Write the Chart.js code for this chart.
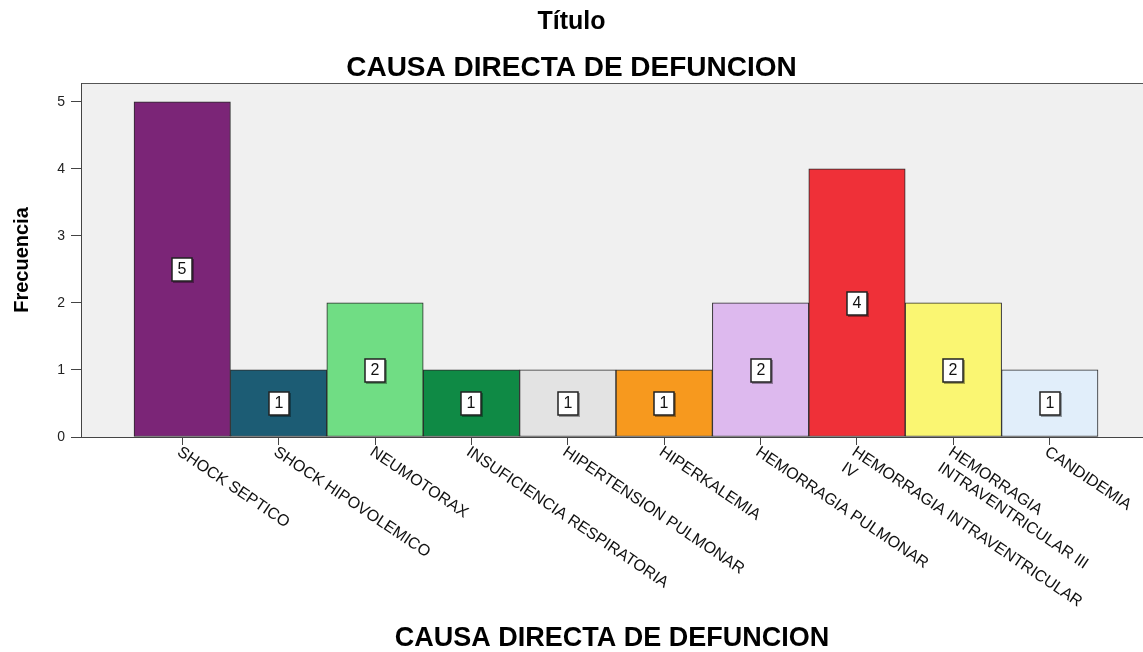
<!DOCTYPE html>
<html lang="es">
<head>
  <meta charset="UTF-8" />
  <title>Causa directa de defunción</title>
  <script src="https://cdn.jsdelivr.net/npm/chart.js"></script>
  <style>
    body { margin: 0; background: #fff; }
    canvas { display: block; }
  </style>
</head>
<body>
  <canvas id="grafico" width="1143" height="652"></canvas>

  <script>
    // Datos
    const categorias = [
      'SHOCK SEPTICO',
      'SHOCK HIPOVOLEMICO',
      'NEUMOTORAX',
      'INSUFICIENCIA RESPIRATORIA',
      'HIPERTENSION PULMONAR',
      'HIPERKALEMIA',
      'HEMORRAGIA PULMONAR',
      ['HEMORRAGIA INTRAVENTRICULAR', 'IV'],
      ['HEMORRAGIA', 'INTRAVENTRICULAR III'],
      'CANDIDEMIA'
    ];
    const frecuencia = [5, 1, 2, 1, 1, 1, 2, 4, 2, 1];
    const colores = [
      '#7b2577', '#1c5c74', '#70dd84', '#0f8a45', '#e3e3e3',
      '#f7991e', '#ddb9ee', '#ef3038', '#faf672', '#e1eefa'
    ];
    const ticksY = [0, 1, 2, 3, 4, 5];

    const fuente = '"Liberation Sans", Arial, sans-serif';

    // Fondo gris y marco del área de trazado
    const fondo = {
      id: 'fondo',
      beforeDraw(chart) {
        const { ctx, chartArea: a } = chart;
        ctx.save();
        ctx.fillStyle = '#f0f0f0';
        ctx.fillRect(a.left, a.top, a.width, a.height);
        ctx.strokeStyle = '#555';
        ctx.lineWidth = 1;
        ctx.strokeRect(a.left + 0.5, a.top + 0.5, a.width, a.height);
        ctx.restore();
      }
    };

    // Etiquetas con el valor en el centro de cada barra
    const etiquetas = {
      id: 'etiquetas',
      afterDatasetsDraw(chart) {
        const { ctx } = chart;
        const meta = chart.getDatasetMeta(0);
        ctx.save();
        ctx.font = '16px ' + fuente;
        ctx.textAlign = 'center';
        ctx.textBaseline = 'middle';
        meta.data.forEach((bar, i) => {
          const cx = Math.round(bar.x);
          const cy = Math.round((bar.y + bar.base) / 2);
          ctx.fillStyle = 'rgba(0,0,0,0.35)';
          ctx.fillRect(cx - 9, cy - 10, 21, 24);
          ctx.fillStyle = '#fff';
          ctx.fillRect(cx - 10, cy - 11, 20, 23);
          ctx.strokeStyle = '#222';
          ctx.lineWidth = 1.5;
          ctx.strokeRect(cx - 10, cy - 11, 20, 23);
          ctx.fillStyle = '#111';
          ctx.fillText(String(frecuencia[i]), cx, cy + 1);
        });
        ctx.restore();
      }
    };

    // Etiquetas del eje X giradas hacia abajo a la derecha
    const etiquetasX = {
      id: 'etiquetasX',
      afterDraw(chart) {
        const { ctx } = chart;
        const xs = chart.scales.x;
        ctx.save();
        ctx.font = '16px ' + fuente;
        ctx.fillStyle = '#111';
        ctx.textAlign = 'left';
        ctx.textBaseline = 'top';
        categorias.forEach((lab, i) => {
          const px = xs.getPixelForValue(i);
          ctx.save();
          ctx.translate(px + 1, xs.top + 7);
          ctx.rotate(34 * Math.PI / 180);
          [].concat(lab).forEach((t, j) => ctx.fillText(t, 0, j * 19));
          ctx.restore();
        });
        ctx.restore();
      }
    };

    const ctx = document.getElementById('grafico').getContext('2d');
    const grafico = new Chart(ctx, {
      type: 'bar',
      data: {
        datasets: [{
          label: 'Frecuencia',
          data: frecuencia.map((v, i) => ({ x: i, y: v })),
          backgroundColor: colores,
          borderColor: '#2a2a2a',
          borderWidth: 1,
          borderSkipped: false,
          barPercentage: 1,
          categoryPercentage: 1
        }]
      },
      options: {
        responsive: false,
        animation: false,
        layout: { padding: 0 },
        plugins: {
          legend: { display: false },
          tooltip: { enabled: false },
          title: {
            display: true,
            text: 'Título',
            color: '#000',
            font: { family: fuente, size: 25, weight: 'bold', lineHeight: 1 },
            padding: { top: 10, bottom: 5 }
          },
          subtitle: {
            display: true,
            text: 'CAUSA DIRECTA DE DEFUNCION',
            color: '#000',
            font: { family: fuente, size: 28, weight: 'bold', lineHeight: 1 },
            padding: { top: 14, bottom: 1 }
          }
        },
        scales: {
          x: {
            type: 'linear',
            offset: false,
            min: -1.05,
            max: 9.967,
            afterBuildTicks(s) { s.ticks = categorias.map((c, i) => ({ value: i })); },
            afterFit(s) { s.height = 215; },
            ticks: { display: false },
            grid: { offset: false, drawOnChartArea: false, tickLength: 8, tickColor: '#444' },
            border: { color: '#444', width: 1 },
            title: {
              display: true,
              text: 'CAUSA DIRECTA DE DEFUNCION',
              color: '#000',
              font: { family: fuente, size: 27, weight: 'bold', lineHeight: 1 },
              padding: { top: 0, bottom: 0 }
            }
          },
          y: {
            min: 0,
            max: 5.28,
            afterBuildTicks(s) { s.ticks = ticksY.map(v => ({ value: v })); },
            afterFit(s) { s.width = 81; },
            ticks: { color: '#222', padding: 6, font: { family: fuente, size: 14 } },
            grid: { drawOnChartArea: false, tickLength: 10, tickColor: '#444' },
            border: { color: '#444', width: 1 },
            title: {
              display: true,
              text: 'Frecuencia',
              color: '#000',
              font: { family: fuente, size: 20, weight: 'bold', lineHeight: 1.2 },
              padding: { top: 10, bottom: 0 }
            }
          }
        }
      },
      plugins: [fondo, etiquetas, etiquetasX]
    });
  </script>
</body>
</html>
